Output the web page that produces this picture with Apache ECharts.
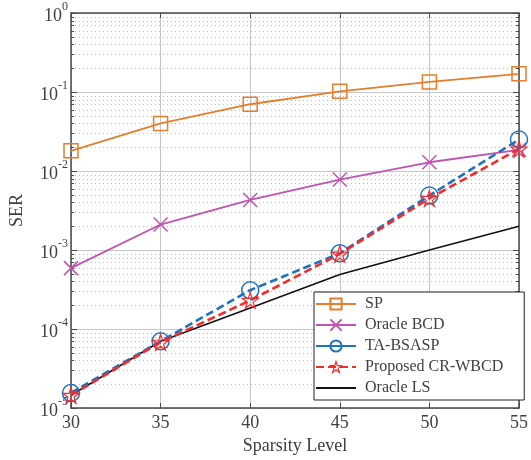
<!DOCTYPE html>
<html>
<head>
<meta charset="utf-8">
<script src="https://cdn.jsdelivr.net/npm/echarts@6/dist/echarts.min.js"></script>
<style>html,body{margin:0;padding:0;background:#fff;}#c{width:531px;height:460px;}</style>
</head>
<body>
<div id="c"></div>
<script>
const sparsity = [30, 35, 40, 45, 50, 55];
const serSP = [0.018, 0.040, 0.070, 0.102, 0.134, 0.170];
const serOracleBCD = [5.9e-4, 2.1e-3, 4.3e-3, 7.8e-3, 1.29e-2, 1.85e-2];
const serTABSASP = [1.55e-5, 7.0e-5, 3.1e-4, 9.1e-4, 4.9e-3, 2.5e-2];
const serProposed = [1.45e-5, 6.8e-5, 2.3e-4, 8.9e-4, 4.5e-3, 1.9e-2];
const serOracleLS = [1.45e-5, 7.0e-5, 1.85e-4, 4.9e-4, 1.0e-3, 2.0e-3];
const decadeExps = [-5, -4, -3, -2, -1];
const minorMults = [2, 3, 4, 5, 6, 7, 8, 9];

const FONT = "'Liberation Serif','Times New Roman',serif";
const TXT = '#404040';
const C_SP = '#e57e2c', C_BCD = '#c053b3', C_TA = '#1f72c0', C_PR = '#f52a2a', C_LS = '#111';
const minorVals = [];
decadeExps.forEach(e => minorMults.forEach(m => minorVals.push([sparsity[0], m * Math.pow(10, e)])));

const pair = arr => sparsity.map((x, i) => [x, arr[i]]);
const starPath = 'path://M50,2 L61.8,38.2 L100,38.2 L69.1,61.8 L80.9,98 L50,74.5 L19.1,98 L30.9,61.8 L0,38.2 L38.2,38.2 Z';
const crossPath = 'path://M0,0 L100,100 M100,0 L0,100';
const CLEAR = 'rgba(255,255,255,0)';

const chart = echarts.init(document.getElementById('c'), null, {renderer: 'canvas'});
chart.setOption({
  animation: false,
  backgroundColor: '#fff',
  grid: {left: 71, top: 13, right: 8, bottom: 52, containLabel: false},
  legend: {
    data: [
      {name: 'SP'},
      {name: 'Oracle BCD'},
      {name: 'TA-BSASP', lineStyle: {type: 'solid', width: 1.8}},
      {name: 'Proposed CR-WBCD', itemStyle: {color: CLEAR, borderColor: C_PR, borderWidth: 1.2}},
      {name: 'Oracle LS', itemStyle: {color: CLEAR, borderColor: CLEAR, borderWidth: 0}}
    ],
    orient: 'vertical', left: 314, top: 292,
    itemWidth: 40, itemHeight: 14, itemGap: 5,
    backgroundColor: '#fff', borderColor: '#222', borderWidth: 1,
    padding: [4, 21, 4, 1],
    textStyle: {fontFamily: FONT, fontSize: 16, color: TXT, padding: [0, 0, 0, 4]}
  },
  xAxis: [{
    type: 'value', min: 30, max: 55, interval: 5, position: 'bottom',
    name: 'Sparsity Level', nameLocation: 'middle', nameGap: 26,
    nameTextStyle: {fontFamily: FONT, fontSize: 18, color: TXT},
    axisLine: {show: true, onZero: false, lineStyle: {color: '#4a4a4a', width: 1.5}},
    axisTick: {show: true, inside: true, length: 5, lineStyle: {color: '#4a4a4a'}},
    axisLabel: {fontFamily: FONT, fontSize: 18, color: TXT, margin: 6},
    splitLine: {show: true, lineStyle: {color: '#c4c4c4', width: 1}}
  }, {
    type: 'value', min: 30, max: 55, interval: 5, position: 'top',
    axisLine: {show: true, onZero: false, lineStyle: {color: '#4a4a4a', width: 1.5}},
    axisTick: {show: true, inside: true, length: 5, lineStyle: {color: '#4a4a4a'}},
    axisLabel: {show: false}, splitLine: {show: false}
  }],
  yAxis: [{
    type: 'log', logBase: 10, min: 1e-5, max: 1, position: 'left',
    name: 'SER', nameLocation: 'middle', nameGap: 45,
    nameTextStyle: {fontFamily: FONT, fontSize: 18, color: TXT},
    axisLine: {show: true, onZero: false, lineStyle: {color: '#4a4a4a', width: 1.5}},
    axisTick: {show: true, inside: true, length: 6, lineStyle: {color: '#4a4a4a'}},
    axisLabel: {
      margin: 3,
      formatter: v => '{b|10}{s|' + Math.round(Math.log10(v)) + '}',
      rich: {
        b: {fontFamily: FONT, fontSize: 18, color: TXT, lineHeight: 24, verticalAlign: 'bottom'},
        s: {fontFamily: FONT, fontSize: 12, color: TXT, lineHeight: 12, verticalAlign: 'top'}
      }
    },
    splitLine: {show: true, lineStyle: {color: '#c8c8c8', width: 1}}
  }, {
    type: 'log', logBase: 10, min: 1e-5, max: 1, position: 'right',
    axisLine: {show: true, onZero: false, lineStyle: {color: '#4a4a4a', width: 1.5}},
    axisTick: {show: true, inside: true, length: 6, lineStyle: {color: '#4a4a4a'}},
    axisLabel: {show: false}, splitLine: {show: false}
  }],
  series: [{
    type: 'custom', name: 'minor', z: 1, silent: true,
    xAxisIndex: 0, yAxisIndex: 0,
    data: minorVals,
    renderItem: function (params, api) {
      const p = api.coord([api.value(0), api.value(1)]);
      const cs = params.coordSys;
      const y = Math.round(p[1]) + 0.5;
      const st = {stroke: '#bdbdbd', lineWidth: 1, lineDash: [1, 3]};
      const tk = {stroke: '#4a4a4a', lineWidth: 1};
      return {type: 'group', children: [
        {type: 'line', shape: {x1: cs.x, y1: y, x2: cs.x + cs.width, y2: y}, style: st},
        {type: 'line', shape: {x1: cs.x, y1: y, x2: cs.x + 3, y2: y}, style: tk},
        {type: 'line', shape: {x1: cs.x + cs.width - 3, y1: y, x2: cs.x + cs.width, y2: y}, style: tk}
      ]};
    }
  }, {
    name: 'Oracle LS', type: 'line', data: pair(serOracleLS), z: 3,
    symbol: 'none', lineStyle: {color: C_LS, width: 1.6}, itemStyle: {color: C_LS}
  }, {
    name: 'SP', type: 'line', data: pair(serSP), z: 3,
    symbol: 'rect', symbolSize: 14,
    lineStyle: {color: C_SP, width: 1.8},
    itemStyle: {color: CLEAR, borderColor: C_SP, borderWidth: 1.5}
  }, {
    name: 'Oracle BCD', type: 'line', data: pair(serOracleBCD), z: 3,
    symbol: crossPath, symbolSize: 14,
    lineStyle: {color: C_BCD, width: 1.8},
    itemStyle: {color: CLEAR, borderColor: C_BCD, borderWidth: 1.5}
  }, {
    name: 'TA-BSASP', type: 'line', data: pair(serTABSASP), z: 4,
    symbol: 'circle', symbolSize: 17,
    lineStyle: {color: C_TA, width: 2.6, type: [8, 4]},
    itemStyle: {color: CLEAR, borderColor: C_TA, borderWidth: 1.5}
  }, {
    name: 'Proposed CR-WBCD', type: 'line', data: pair(serProposed), z: 5,
    symbol: starPath, symbolSize: 16,
    lineStyle: {color: C_PR, width: 2.6, type: [8, 4]},
    itemStyle: {color: CLEAR, borderColor: C_PR, borderWidth: 1.2}
  }]
});
</script>
</body>
</html>
